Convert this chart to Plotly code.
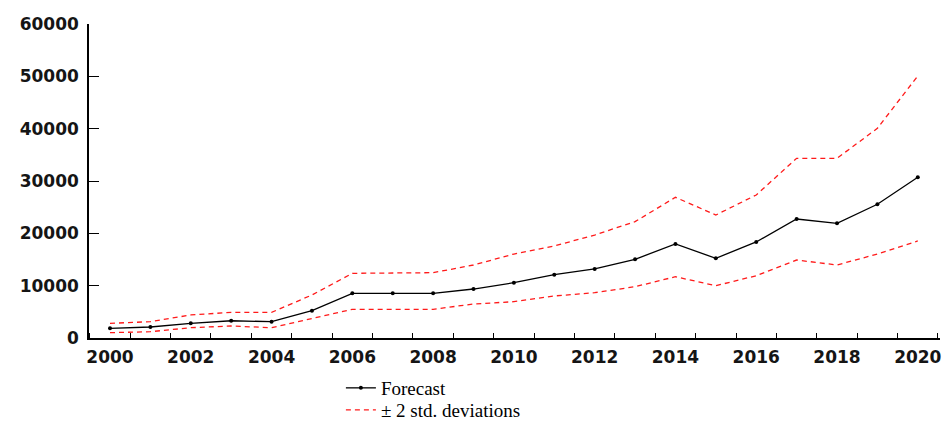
import plotly.graph_objects as go

years = list(range(2000, 2021))
forecast = [1850, 2100, 2800, 3300, 3120, 5220, 8540, 8540, 8540, 9360, 10570,
            12100, 13190, 15040, 17960, 15230, 18350, 22740, 21920, 25550, 30710]
upper = [2800, 3120, 4400, 4900, 4900, 8220, 12360, 12480, 12480, 13950, 16050,
         17580, 19680, 22230, 26890, 23500, 27330, 34340, 34340, 40070, 50070]
lower = [1020, 1200, 1970, 2290, 1970, 3760, 5480, 5480, 5480, 6500, 6940,
         8030, 8660, 9800, 11710, 9990, 11900, 14900, 13950, 16050, 18540]
x_labels = list(range(2000, 2021, 2))
y_ticks = list(range(0, 60001, 10000))

fig = go.Figure()
fig.add_trace(go.Scatter(x=years, y=forecast, mode="lines+markers", name="Forecast",
                         legend="legend",
                         line=dict(color="black", width=1.3),
                         marker=dict(color="black", size=4, symbol="circle")))
fig.add_trace(go.Scatter(x=years, y=upper, mode="lines", name="± 2 std. deviations",
                         legend="legend2",
                         line=dict(color="#ff1a1a", width=1.3, dash="5px,4px")))
fig.add_trace(go.Scatter(x=years, y=lower, mode="lines", showlegend=False,
                         line=dict(color="#ff1a1a", width=1.3, dash="5px,4px")))

tickfont = dict(family="DejaVu Sans", size=17, color="#151515", weight="bold")
legfont = dict(family="Liberation Serif", size=19, color="black")

fig.update_layout(
    width=943, height=421,
    margin=dict(l=89, r=3, t=24, b=83, autoexpand=False),
    paper_bgcolor="white", plot_bgcolor="white",
    showlegend=True,
    legend=dict(x=0.296, y=0.1235, xref="paper", yref="container",
                xanchor="left", yanchor="top", font=legfont,
                bgcolor="rgba(0,0,0,0)"),
    legend2=dict(x=0.296, y=0.0712, xref="paper", yref="container",
                 xanchor="left", yanchor="top", font=legfont,
                 bgcolor="rgba(0,0,0,0)"),
    xaxis=dict(range=[1999.48, 2020.55], tickvals=x_labels, ticktext=[str(v) for v in x_labels],
               ticks="", showgrid=False, zeroline=False, automargin=False,
               showline=True, linecolor="black", linewidth=1.5,
               tickfont=tickfont, ticklabelstandoff=3,
               minor=dict(ticks="inside", tick0=2000.5, dtick=1, ticklen=5,
                          tickcolor="black", tickwidth=1.2, showgrid=False)),
    yaxis=dict(range=[0, 60000], tickvals=y_ticks, ticktext=[str(v) for v in y_ticks],
               ticks="inside", ticklen=10, tickcolor="black", tickwidth=1.2,
               showgrid=False, zeroline=False, automargin=False,
               showline=True, linecolor="black", linewidth=1.5,
               tickfont=tickfont, ticklabelstandoff=5),
)

fig.write_html("out.html")
